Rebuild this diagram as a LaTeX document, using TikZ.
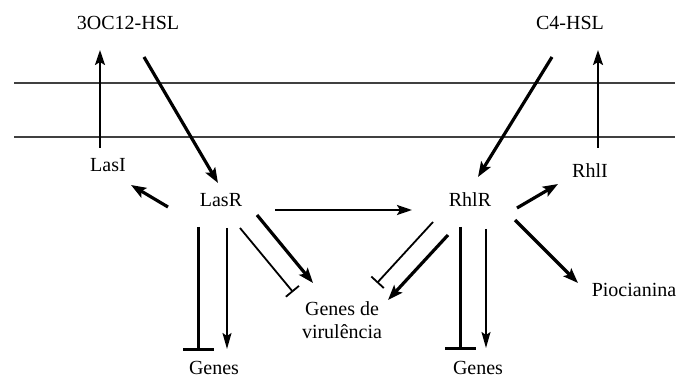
\documentclass[tikz,border=0pt]{standalone}
\usepackage{fontspec}
\setmainfont{Liberation Serif}
\usetikzlibrary{arrows.meta,calc}
\begin{document}
\begin{tikzpicture}[x=1pt,y=-1pt,
  lbl/.style={inner sep=0pt,anchor=base,font=\fontsize{20}{23}\selectfont},
  memb/.style={line width=2.2pt,draw=black!75},
  thickarr/.style={line width=3.2pt,-{Stealth[length=15pt,width=11pt,inset=3pt]}},
  medarr/.style={line width=2.2pt,-{Stealth[length=15pt,width=10pt,inset=3pt]}},
  thinarr/.style={line width=1.8pt,-{Stealth[length=16pt,width=9pt,inset=3pt]}},
  biginh/.style={line width=3pt,-{Bar[width=31pt]}},
  smallinh/.style={line width=1.8pt,-{Bar[width=17pt]}}]
\useasboundingbox (0,0) rectangle (681,379);
\draw[memb] (14,83) -- (675,83);
\draw[memb] (14,137) -- (675,137);
\node[lbl] (hsl3) at (128,30) {3OC12-HSL};
\node[lbl] (c4) at (570,30) {C4-HSL};
\node[lbl] (lasi) at (108,172) {LasI};
\node[lbl] (lasr) at (221,207) {LasR};
\node[lbl] (rhlr) at (470,207) {RhlR};
\node[lbl] (rhli) at (590,178) {RhlI};
\node[lbl] (pio) at (634,297) {Piocianina};
\node[lbl] (genesL) at (214,375) {Genes};
\node[lbl] (genesR) at (478,375) {Genes};
\node[inner sep=0pt,anchor=center,align=center,font=\fontsize{20}{23}\selectfont] (gdv) at (342,320) {Genes de\\virulência};
% arrows
\draw[medarr] ($(lasi.base)+(-8,-24)$) -- ($(lasi.base)+(-8,-122)$);
\draw[thickarr] ($(hsl3.base)+(16,27)$) -- ($(lasr.base)+(-3,-24)$);
\draw[thickarr] ($(lasr.base)+(-53,0)$) -- ($(lasi.base)+(23,13)$);
\draw[medarr] ($(lasr.base)+(54,3)$) -- ($(rhlr.base)+(-58,3)$);
\draw[thickarr] ($(c4.base)+(-18,27)$) -- ($(rhlr.base)+(8,-30)$);
\draw[medarr] ($(rhli.base)+(8,-30)$) -- ($(rhli.base)+(8,-128)$);
\draw[thickarr] ($(rhlr.base)+(47,1)$) -- ($(rhli.base)+(-32,6)$);
\draw[thickarr] ($(rhlr.base)+(45,13)$) -- ($(pio.base)+(-56,-14)$);
\draw[biginh] ($(lasr.base)+(-23,20)$) -- ($(genesL.base)+(-16,-24)$);
\draw[thinarr] ($(lasr.base)+(6,21)$) -- ($(genesL.base)+(13,-26)$);
\draw[smallinh] ($(lasr.base)+(19,21)$) -- ($(gdv.center)+(-49,-28)$);
\draw[thickarr] ($(lasr.base)+(36,8)$) -- ($(gdv.center)+(-29,-37)$);
\draw[smallinh] ($(rhlr.base)+(-37,15)$) -- ($(gdv.center)+(35,-37)$);
\draw[thickarr] ($(rhlr.base)+(-22,28)$) -- ($(gdv.center)+(46,-20)$);
\draw[biginh] ($(rhlr.base)+(-10,20)$) -- ($(genesR.base)+(-18,-25)$);
\draw[thinarr] ($(rhlr.base)+(16,22)$) -- ($(genesR.base)+(8,-27)$);
\end{tikzpicture}
\end{document}
